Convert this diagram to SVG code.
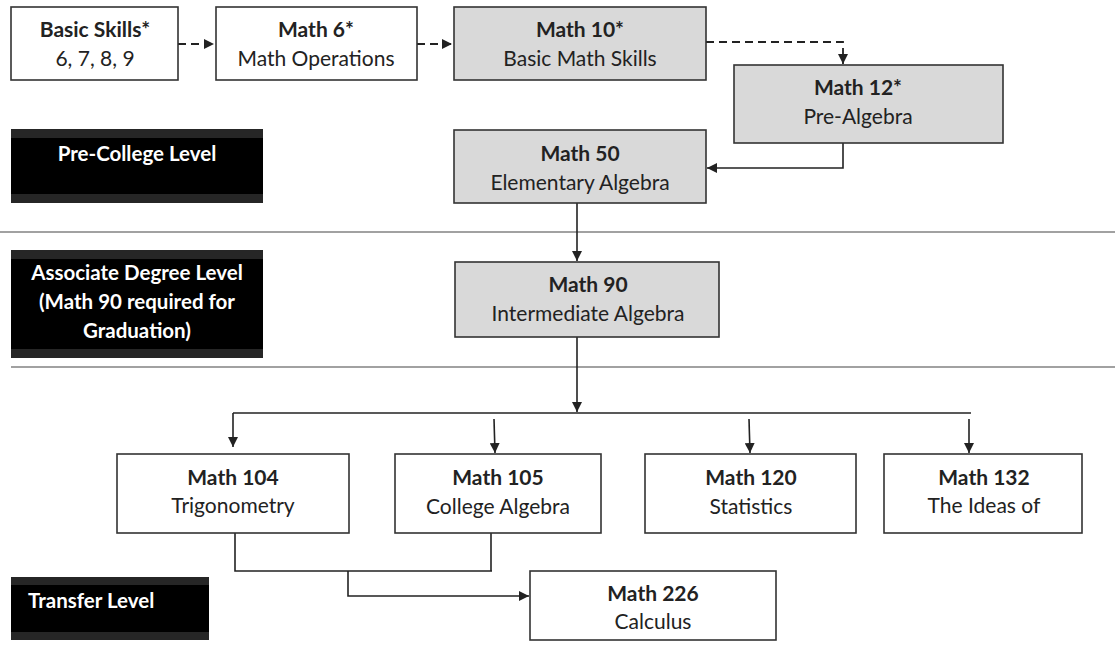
<svg xmlns="http://www.w3.org/2000/svg" width="1115" height="658" viewBox="0 0 1115 658">
<defs>
<marker id="ah" viewBox="0 0 10 10" refX="10" refY="5" markerWidth="10" markerHeight="10" markerUnits="userSpaceOnUse" orient="auto">
<path d="M0,0 L10,5 L0,10 z" fill="#222"/>
</marker>
</defs>
<style>
.box{fill:#fff;stroke:#333;stroke-width:1.6}
.gray{fill:#d9d9d9;stroke:#333;stroke-width:1.6}
.t{font-family:Lato,"Open Sans","Liberation Sans",sans-serif;font-size:21px;fill:#222;text-anchor:middle}
.b{font-weight:bold}
.lvl{font-family:Lato,"Open Sans","Liberation Sans",sans-serif;font-size:20.5px;font-weight:bold;fill:#fff;text-anchor:middle}
.c{fill:none;stroke:#222;stroke-width:1.6}
.d{fill:none;stroke:#222;stroke-width:1.8;stroke-dasharray:8 5}
.sep{stroke:#444;stroke-width:1.2}
.outer{fill:#262626}
.inner{fill:#000}
</style>
<rect width="1115" height="658" fill="#fff"/>
<g id="separators">
<line class="sep" x1="0" y1="232" x2="1115" y2="232"/>
<line class="sep" x1="11" y1="367" x2="1115" y2="367"/>
</g>
<g id="level-precollege">
<rect class="outer" x="11" y="129" width="252" height="74"/>
<rect class="inner" x="11" y="138" width="252" height="56"/>
<text class="lvl" x="137" y="161">Pre-College Level</text>
</g>
<g id="level-associate">
<rect class="outer" x="11" y="250" width="252" height="108"/>
<rect class="inner" x="11" y="259" width="252" height="90"/>
<text class="lvl" x="137" y="280">Associate Degree Level</text>
<text class="lvl" x="137" y="309">(Math 90 required for</text>
<text class="lvl" x="137" y="338">Graduation)</text>
</g>
<g id="level-transfer">
<rect class="outer" x="11" y="577" width="198" height="63"/>
<rect class="inner" x="11" y="585" width="198" height="47"/>
<text class="lvl" x="28" y="608" style="text-anchor:start">Transfer Level</text>
</g>
<g id="connectors">
<line class="d" x1="178" y1="44" x2="214" y2="44" marker-end="url(#ah)"/>
<line class="d" x1="417" y1="44" x2="452" y2="44" marker-end="url(#ah)"/>
<polyline class="d" points="706,42 843,42 843,64" marker-end="url(#ah)"/>
<polyline class="c" points="843,143 843,168 707,168" marker-end="url(#ah)"/>
<line class="c" x1="577" y1="203" x2="577" y2="261" marker-end="url(#ah)"/>
<line class="c" x1="577" y1="337" x2="577" y2="412" marker-end="url(#ah)"/>
<line class="c" x1="233" y1="413" x2="971" y2="413"/>
<line class="c" x1="233" y1="413" x2="233" y2="447" marker-end="url(#ah)"/>
<line class="c" x1="494" y1="419" x2="495" y2="453" marker-end="url(#ah)"/>
<line class="c" x1="749" y1="419" x2="750" y2="453" marker-end="url(#ah)"/>
<line class="c" x1="969" y1="419" x2="969" y2="453" marker-end="url(#ah)"/>
<polyline class="c" points="235,533 235,571 492,571"/>
<line class="c" x1="491" y1="533" x2="491" y2="571"/>
<polyline class="c" points="348,571 348,596 529,596" marker-end="url(#ah)"/>
</g>
<g id="basic-skills">
<rect class="box" x="11" y="7" width="167" height="73"/>
<text class="t b" x="95" y="37">Basic Skills*</text>
<text class="t" x="95" y="66">6, 7, 8, 9</text>
</g>
<g id="math6">
<rect class="box" x="216" y="7" width="201" height="73"/>
<text class="t b" x="316" y="37">Math 6*</text>
<text class="t" x="316" y="66">Math Operations</text>
</g>
<g id="math10">
<rect class="gray" x="454" y="7" width="252" height="73"/>
<text class="t b" x="580" y="37">Math 10*</text>
<text class="t" x="580" y="66">Basic Math Skills</text>
</g>
<g id="math12">
<rect class="gray" x="734" y="65" width="269" height="78"/>
<text class="t b" x="858" y="95">Math 12*</text>
<text class="t" x="858" y="124">Pre-Algebra</text>
</g>
<g id="math50">
<rect class="gray" x="454" y="130" width="252" height="73"/>
<text class="t b" x="580" y="161">Math 50</text>
<text class="t" x="580" y="190">Elementary Algebra</text>
</g>
<g id="math90">
<rect class="gray" x="455" y="262" width="264" height="75"/>
<text class="t b" x="588" y="292">Math 90</text>
<text class="t" x="588" y="321">Intermediate Algebra</text>
</g>
<g id="math104">
<rect class="box" x="117" y="454" width="232" height="79"/>
<text class="t b" x="233" y="485">Math 104</text>
<text class="t" x="233" y="513">Trigonometry</text>
</g>
<g id="math105">
<rect class="box" x="395" y="454" width="206" height="79"/>
<text class="t b" x="498" y="485">Math 105</text>
<text class="t" x="498" y="514">College Algebra</text>
</g>
<g id="math120">
<rect class="box" x="645" y="454" width="211" height="79"/>
<text class="t b" x="751" y="485">Math 120</text>
<text class="t" x="751" y="514">Statistics</text>
</g>
<g id="math132">
<rect class="box" x="884" y="454" width="198" height="79"/>
<text class="t b" x="984" y="485">Math 132</text>
<text class="t" x="984" y="513">The Ideas of</text>
</g>
<g id="math226">
<rect class="box" x="530" y="571" width="246" height="69"/>
<text class="t b" x="653" y="601">Math 226</text>
<text class="t" x="653" y="629">Calculus</text>
</g>
</svg>
